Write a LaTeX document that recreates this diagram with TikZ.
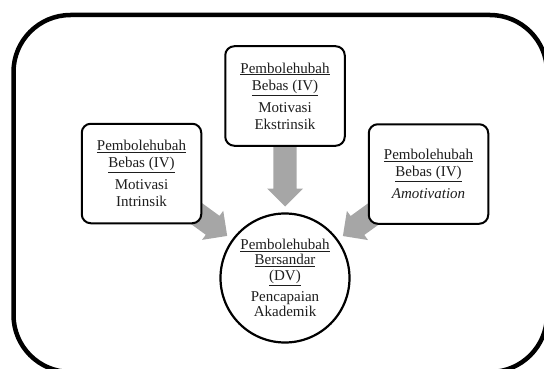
\documentclass[tikz,border=0pt]{standalone}
\usepackage{fontspec}
\setmainfont{Liberation Serif}
\usetikzlibrary{calc,backgrounds}
\definecolor{arrowgray}{RGB}{166,166,166}
\definecolor{txt}{RGB}{30,30,30}
\tikzset{
  ivbox/.style={draw=black, line width=2pt, rounded corners=9pt, fill=white,
    minimum width=119.5pt, minimum height=99.5pt, align=center, text=txt,
    font=\fontsize{15}{17}\selectfont, inner sep=0pt},
  dvcircle/.style={draw=black, line width=2.2pt, circle, fill=white,
    minimum size=129pt, align=center, text=txt,
    font=\fontsize{15}{15.6}\selectfont, inner sep=0pt},
  frame/.style={draw=black, line width=4.5pt, rounded corners=57pt},
  arrowfill/.style={fill=arrowgray}
}
\newcommand\blockarrow[2]{%
  \coordinate (h-#2) at ($(#2)!18pt!(#1)$);
  \fill[arrowfill] ($(#1)!11.7pt!90:(#2)$) -- ($(h-#2)!11.7pt!90:(#2)$)
    -- ($(h-#2)!18pt!90:(#2)$) -- (#2) -- ($(h-#2)!18pt!-90:(#2)$)
    -- ($(h-#2)!11.7pt!-90:(#2)$) -- ($(#1)!11.7pt!-90:(#2)$) -- cycle;}
\begin{document}
\begin{tikzpicture}[x=1pt,y=-1pt]
\useasboundingbox (0,0) rectangle (544,369);
\draw[frame] (13.5,15) rectangle (547,372);
\node[ivbox] (l) at (141.5,173.5) {\underline{Pembolehubah}\\\underline{Bebas (IV)}\\[5pt]Motivasi\\Intrinsik};
\node[ivbox] (t) at (285,96) {\underline{Pembolehubah}\\\underline{Bebas (IV)}\\[5pt]Motivasi\\Ekstrinsik};
\node[ivbox] (r) at (428.5,174) {\underline{Pembolehubah}\\\underline{Bebas (IV)}\\[5pt]\textit{Amotivation}};
\node[dvcircle] (c) at (285,278) {\underline{Pembolehubah}\\\underline{Bersandar}\\\underline{(DV)}\\[5.3pt]Pencapaian\\Akademik};
\begin{pgfonlayer}{background}
\coordinate (tl) at ($(c.center)!71.5pt!(l.center)$);
\coordinate (tt) at ($(c.center)!71.5pt!(t.center)$);
\coordinate (tr) at ($(c.center)!71.5pt!(r.center)$);
\blockarrow{l.center}{tl}
\blockarrow{t.center}{tt}
\blockarrow{r.center}{tr}
\end{pgfonlayer}
\end{tikzpicture}
\end{document}
